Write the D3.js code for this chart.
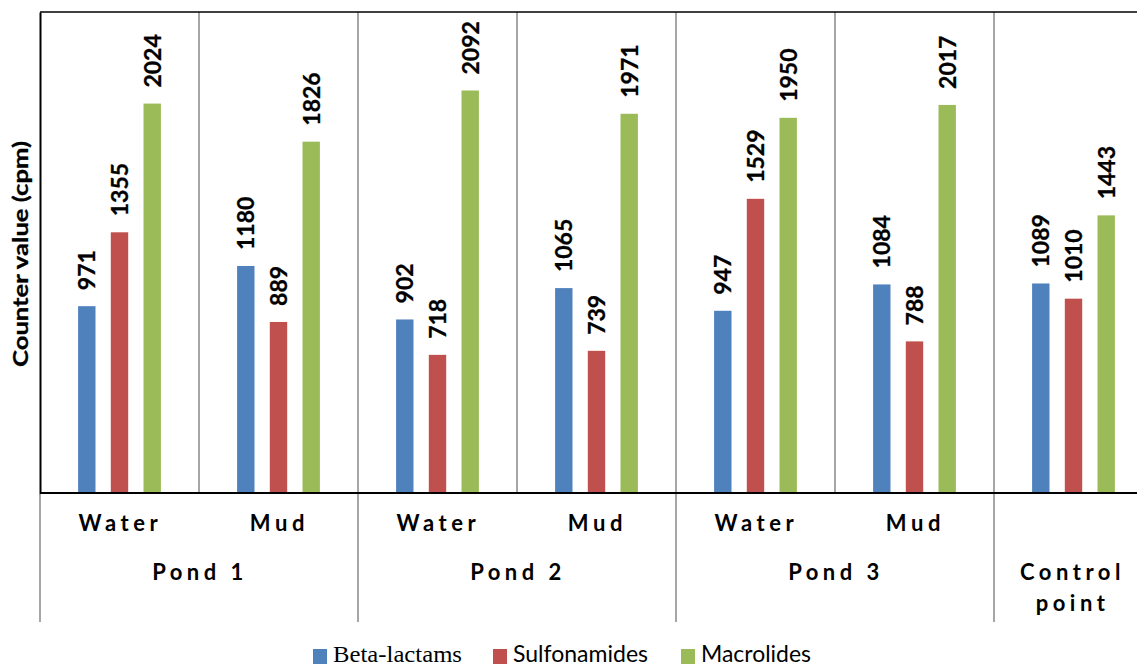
<!DOCTYPE html>
<html>
<head>
<meta charset="utf-8">
<script src="https://cdn.jsdelivr.net/npm/d3@7"></script>
<style>
  html, body { margin: 0; padding: 0; background: #fff; }
  svg { display: block; }
</style>
</head>
<body>
<svg id="chart" width="1137" height="668"></svg>
<script>
// ---- data ----
const categories = ["P1-Water", "P1-Mud", "P2-Water", "P2-Mud", "P3-Water", "P3-Mud", "Control"];
const subLabels = ["Water", "Mud", "Water", "Mud", "Water", "Mud", ""];
const groups = ["Pond 1", "Pond 2", "Pond 3", "Control point"];
const groupSpans = [2, 2, 2, 1];
const seriesNames = ["Beta-lactams", "Sulfonamides", "Macrolides"];
const betaLactams = [971, 1180, 902, 1065, 947, 1084, 1089];
const sulfonamides = [1355, 889, 718, 739, 1529, 788, 1010];
const macrolides = [2024, 1826, 2092, 1971, 1950, 2017, 1443];
const colors = ["#4F81BD", "#C0504D", "#9BBB59"];
const yMax = 2500;

(function () {
const series = [betaLactams, sulfonamides, macrolides];

const svg = d3.select("#chart");
const pLeft = 40, pRight = 1153, pTop = 12, pBase = 493, bottomExt = 622;

const x = d3.scaleBand().domain(categories).range([pLeft, pRight]).padding(0);
const xi = d3.scaleBand().domain(seriesNames).range([0, x.bandwidth()])
  .paddingInner(0.468).paddingOuter(1.165);
const y = d3.scaleLinear().domain([0, yMax]).range([pBase, pTop]);

const grey = "#a6a6a6";

// separators between categories inside plot
categories.forEach((c, i) => {
  if (i === 0) return;
  svg.append("line")
    .attr("x1", x(c)).attr("x2", x(c))
    .attr("y1", pTop).attr("y2", pBase)
    .attr("stroke", grey).attr("stroke-width", 2);
});

// group separators below baseline
let acc = 0;
const groupStarts = [];
groupSpans.forEach((s) => {
  groupStarts.push(acc);
  acc += s;
});
groupStarts.forEach((st) => {
  const xx = x(categories[st]);
  svg.append("line")
    .attr("x1", xx).attr("x2", xx)
    .attr("y1", pBase).attr("y2", bottomExt)
    .attr("stroke", grey).attr("stroke-width", 2);
});

// bars
series.forEach((vals, si) => {
  svg.append("g").selectAll("rect")
    .data(vals)
    .join("rect")
    .attr("x", (d, i) => x(categories[i]) + xi(seriesNames[si]))
    .attr("width", xi.bandwidth())
    .attr("y", d => y(d))
    .attr("height", d => y(0) - y(d))
    .attr("fill", colors[si]);
});

// value labels
const labelFont = 23;
series.forEach((vals, si) => {
  svg.append("g").selectAll("text")
    .data(vals)
    .join("text")
    .attr("transform", (d, i) => {
      const cx = x(categories[i]) + xi(seriesNames[si]) + xi.bandwidth() / 2 + 8.3;
      const cy = y(d) - 16;
      return `translate(${cx},${cy}) rotate(-90)`;
    })
    .attr("font-family", "Lato, 'Open Sans', sans-serif")
    .attr("font-weight", "bold")
    .attr("font-size", labelFont)
    .attr("fill", "#000")
    .attr("stroke", "#000").attr("stroke-width", 0.3)
    .text(d => d);
});

// axes frame
const yAxis = d3.axisLeft(y).tickValues([]).tickSize(0);
svg.append("g").attr("transform", `translate(${pLeft},0)`).call(yAxis)
  .select(".domain").attr("stroke", "#000").attr("stroke-width", 2);
svg.append("line").attr("x1", pLeft).attr("x2", 1137).attr("y1", pTop).attr("y2", pTop)
  .attr("stroke", "#000").attr("stroke-width", 1.5);
svg.append("line").attr("x1", pLeft).attr("x2", 1137).attr("y1", pBase).attr("y2", pBase)
  .attr("stroke", "#000").attr("stroke-width", 2);

// sub labels
svg.append("g").selectAll("text")
  .data(subLabels)
  .join("text")
  .attr("x", (d, i) => x(categories[i]) + x.bandwidth() / 2 + 1)
  .attr("y", 531)
  .attr("text-anchor", "middle")
  .attr("font-family", "Lato, 'Open Sans', sans-serif")
  .attr("font-weight", "bold")
  .attr("font-size", 22)
  .attr("letter-spacing", 4.6)
  .text(d => d);

// group labels
groups.forEach((g, gi) => {
  const st = groupStarts[gi];
  const en = st + groupSpans[gi] - 1;
  const cx = (x(categories[st]) + x(categories[en]) + x.bandwidth()) / 2;
  const lines = g === "Control point" ? ["Control", "point"] : [g];
  lines.forEach((ln, li) => {
    svg.append("text")
      .attr("x", cx + (lines.length > 1 ? -1 : 1))
      .attr("y", 580 + li * 31)
      .attr("text-anchor", "middle")
      .attr("font-family", "Lato, 'Open Sans', sans-serif")
      .attr("font-weight", "bold")
      .attr("font-size", 22)
      .attr("letter-spacing", 4.5)
      .text(ln);
  });
});

// y axis title
svg.append("text")
  .attr("transform", `translate(27.5,254) rotate(-90)`)
  .attr("text-anchor", "middle")
  .attr("font-family", "Lato, 'Open Sans', sans-serif")
  .attr("font-weight", "bold")
  .attr("font-size", 20.5)
  .attr("textLength", 226)
  .attr("lengthAdjust", "spacingAndGlyphs")
  .attr("stroke", "#000").attr("stroke-width", 0.3)
  .text("Counter value (cpm)");

// legend
const legendItems = [
  { name: seriesNames[0], sx: 313, tx: 333, w: 129, font: "'Liberation Serif', 'Times New Roman', serif" },
  { name: seriesNames[1], sx: 493, tx: 513, w: 135, font: "Lato, 'Open Sans', sans-serif" },
  { name: seriesNames[2], sx: 681, tx: 701, w: 110, font: "Lato, 'Open Sans', sans-serif" }
];
legendItems.forEach((it, i) => {
  svg.append("rect").attr("x", it.sx).attr("y", 649).attr("width", 14).attr("height", 15)
    .attr("fill", colors[i]);
  svg.append("text").attr("x", it.tx).attr("y", 662)
    .attr("font-family", it.font)
    .attr("font-size", 23)
    .attr("fill", "#000")
    .attr("textLength", it.w)
    .attr("lengthAdjust", "spacingAndGlyphs")
    .text(it.name);
});
})();
</script>
</body>
</html>
